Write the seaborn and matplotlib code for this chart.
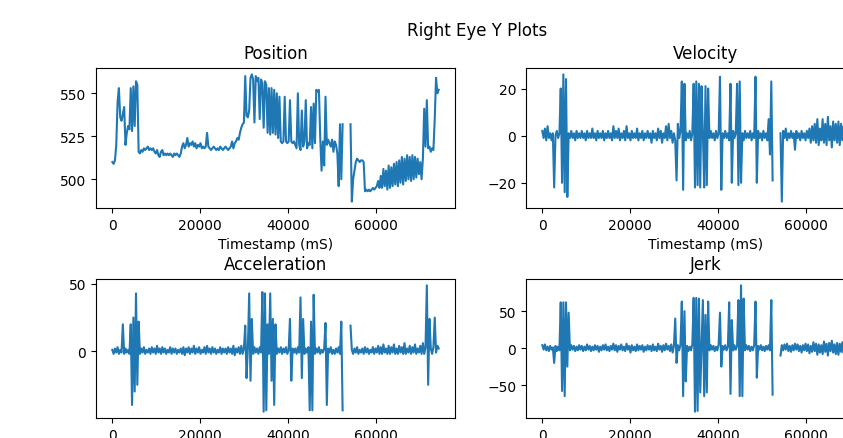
import numpy as np
import pandas as pd
import matplotlib
matplotlib.use("Agg")
import matplotlib.pyplot as plt
from matplotlib.ticker import MultipleLocator
import seaborn as sns

nan = np.nan

timestamps = [
    0, 300, 600, 900, 1200, 1500, 1800, 2100, 2400, 2700,
    3000, 3300, 3600, 3900, 4200, 4500, 4800, 5100, 5400, 5700,
    6000, 6300, 6600, 6900, 7200, 7500, 7800, 8100, 8400, 8700,
    9000, 9300, 9600, 9900, 10200, 10500, 10800, 11100, 11400, 11700,
    12000, 12300, 12600, 12900, 13200, 13500, 13800, 14100, 14400, 14700,
    15000, 15300, 15600, 15900, 16200, 16500, 16800, 17100, 17400, 17700,
    18000, 18300, 18600, 18900, 19200, 19500, 19800, 20100, 20400, 20700,
    21000, 21300, 21600, 21900, 22200, 22500, 22800, 23100, 23400, 23700,
    24000, 24300, 24600, 24900, 25200, 25500, 25800, 26100, 26400, 26700,
    27000, 27300, 27600, 27900, 28200, 28500, 28800, 29100, 29400, 29700,
    30000, 30300, 30600, 30900, 31200, 31500, 31800, 32100, 32400, 32700,
    33000, 33300, 33600, 33900, 34200, 34500, 34800, 35100, 35400, 35700,
    36000, 36300, 36600, 36900, 37200, 37500, 37800, 38100, 38400, 38700,
    39000, 39300, 39600, 39900, 40200, 40500, 40800, 41100, 41400, 41700,
    42000, 42300, 42600, 42900, 43200, 43500, 43800, 44100, 44400, 44700,
    45000, 45300, 45600, 45900, 46200, 46500, 46800, 47100, 47400, 47700,
    48000, 48300, 48600, 48900, 49200, 49500, 49800, 50100, 50400, 50700,
    51000, 51300, 51600, 51900, 52200, 52500, 52800, 53100, 53400, 53700,
    54000, 54300, 54600, 54900, 55200, 55500, 55800, 56100, 56400, 56700,
    57000, 57300, 57600, 57900, 58200, 58500, 58800, 59100, 59400, 59700,
    60000, 60300, 60600, 60900, 61200, 61500, 61800, 62100, 62400, 62700,
    63000, 63300, 63600, 63900, 64200, 64500, 64800, 65100, 65400, 65700,
    66000, 66300, 66600, 66900, 67200, 67500, 67800, 68100, 68400, 68700,
    69000, 69300, 69600, 69900, 70200, 70500, 70800, 71100, 71400, 71700,
    72000, 72300, 72600, 72900, 73200, 73500, 73800, 74100, 74400,
]

position = [
    510, 509, 511, 520, 545, 553, 536, 534, 538, 542,
    520, 527, 531, 529, 553, 528, 554, 531, 557, 555,
    516, 515, 517, 516, 518, 517, 518, 519, 517, 518,
    517, 518, 516, 515, 517, 514, 513, 516, 517, 514,
    515, 514, 515, 514, 515, 514, 513, 515, 514, 515,
    514, 513, 515, 519, 521, 518, 520, 524, 519, 521,
    520, 522, 519, 521, 518, 520, 519, 521, 518, 519,
    518, 519, 527, 519, 518, 517, 518, 519, 518, 517,
    518, 517, 519, 518, 517, 518, 519, 518, 517, 518,
    519, 522, 518, 521, 522, 524, 523, 527, 530, 532,
    533, 560, 537, 536, 540, 559, 561, 558, 533, 560,
    557, 559, 535, 558, 556, 530, 557, 555, 527, 553,
    526, 553, 527, 552, 526, 550, 524, 548, 522, 521,
    522, 548, 522, 521, 522, 546, 522, 521, 522, 520,
    518, 550, 520, 517, 540, 519, 522, 546, 518, 521,
    520, 542, 518, 544, 521, 552, 551, 552, 524, 505,
    522, 508, 548, 520, 523, 521, 519, 523, 516, 522,
    520, 515, 496, 532, 500, 532, nan, nan, nan, nan,
    nan, 532, 487, 500, 505, 510, 512, 511, 510, 511,
    511, 510, 493, 494, 493, 494, 493, 494, 495, 494,
    495, 496, 499, 495, 502, 495, 506, 496, 505, 494,
    508, 495, 507, 496, 509, 497, 510, 496, 511, 498,
    513, 497, 512, 499, 514, 500, 513, 499, 514, 500,
    513, 501, 512, 503, 510, 500, 512, 541, 519, 546,
    518, 519, 516, 518, 517, 535, 559, 550, 552,
]

velocity = [
    2, -1, 3, -2, 4, -1, 1, -2, 1, -22,
    0, 2, -1, 1, 20, -20, 26, -24, 24, -26,
    1, -1, 2, -1, 1, -2, 2, -1, 1, -1,
    2, -1, 1, -2, 2, -1, 1, -1, 3, -1,
    1, -2, 2, -1, 1, -1, 2, -2, 1, -1,
    2, -1, 1, -2, 4, -1, 2, -1, 3, -2,
    1, -1, 2, -2, 4, -1, 1, -2, 2, -1,
    1, -1, 3, -2, 1, -1, 2, -2, 1, -1,
    2, -1, 1, -3, 2, -1, 1, -2, 3, -1,
    2, -3, 1, -1, 4, -2, 5, -1, 2, -3,
    1, -2, -19, 5, -1, 2, 23, -23, 22, -2,
    1, -1, 2, -2, 1, 22, -22, 23, -21, 22,
    -22, 21, 1, -22, 21, -21, 20, -1, 2, -1,
    1, -2, 2, -1, 1, 25, -23, 1, -1, 2,
    -1, 1, -2, 22, -20, 2, -1, 1, 22, -21,
    23, -20, 1, -2, 2, -1, 1, -1, 2, -2,
    1, -1, 25, -20, 2, -1, 1, -2, 2, -1,
    1, -2, 7, -8, 23, -19, nan, nan, nan, nan,
    nan, 1, -28, 2, -1, 3, -2, 1, -1, 2,
    -1, 1, -6, 2, -1, 1, -2, 2, -1, 1,
    -2, 2, -1, 3, -3, 4, -2, 5, -3, 7,
    -4, 3, -2, 7, -3, 5, -4, 8, -2, 4,
    -5, 6, -2, 5, -3, 6, -4, 5, -2, 4,
    -3, 6, -4, 5, -2, 4, -3, 5, -4, 6,
    -3, 5, -2, 4, -3, 5, -4, 6, -3,
]

acceleration = [
    1, -2, 2, -1, 3, -2, 1, -1, 20, -2,
    2, -1, 1, -2, 20, -40, 25, -30, 43, -25,
    22, -2, 2, -1, 3, -2, 1, -1, 2, -2,
    3, -1, 2, -2, 4, -1, 2, -2, 3, -1,
    2, -2, 1, -1, 3, -2, 2, -1, 2, -2,
    1, -1, 2, -2, 3, -3, 2, -1, 3, -2,
    2, -1, 4, -2, 2, -1, 3, -2, 1, -1,
    3, -2, 4, -1, 2, -2, 3, -1, 2, -2,
    1, -1, 3, -2, 2, -1, 2, -2, 3, -1,
    2, -2, 4, -3, 2, -1, 3, -2, 4, -2,
    2, 19, -20, 2, 43, -22, 24, -2, 3, -1,
    2, -2, 3, -1, 44, -45, 43, -44, 20, -2,
    43, -22, 24, -40, 20, -2, 2, -1, 3, -2,
    2, -1, 3, -2, 1, 24, -22, 2, -1, 2,
    -2, 3, -1, 40, -20, 24, -2, 2, -1, 3,
    -44, 22, -44, 42, -2, 2, -1, 3, -2, 1,
    -1, 2, 21, -40, 2, -1, 3, -2, 1, -2,
    2, -1, 3, -2, 22, -44, nan, nan, nan, nan,
    nan, 19, 1, -2, 2, -1, 3, -2, 1, -1,
    2, -2, 3, -1, 2, -2, 1, -1, 3, -2,
    2, -1, 4, -2, 3, -2, 5, -1, 2, -2,
    4, -2, 3, -1, 5, -2, 2, -2, 4, -1,
    3, -2, 6, -2, 2, -1, 4, -2, 3, -1,
    5, -2, 2, -1, 4, -2, 6, -2, 3, 49,
    -25, 24, 2, -2, 3, 25, -1, 4, 2,
]

jerk = [
    4, -2, 5, -3, 2, -4, 3, -2, 1, -20,
    3, -4, 2, -3, 62, -58, 62, -65, 62, -25,
    48, -3, 4, -2, 3, -4, 2, -3, 4, -2,
    3, -4, 2, -3, 5, -2, 3, -4, 2, -3,
    4, -2, 3, -5, 2, -3, 4, -2, 5, -3,
    2, -4, 3, -2, 6, -3, 4, -5, 3, -2,
    5, -3, 2, -4, 6, -2, 3, -6, 4, -3,
    2, -4, 5, -3, 3, -2, 4, -5, 2, -3,
    4, -2, 3, -4, 5, -3, 2, -4, 6, -2,
    3, -5, 4, -3, 6, -2, 3, -4, 5, -6,
    3, 40, -20, 4, -3, 5, 63, -65, 50, -45,
    3, -4, 2, -3, 5, 68, -86, 68, -85, 67,
    -60, 4, 65, -65, 45, -60, 63, -3, 4, -2,
    3, -4, 2, -3, 5, 48, -25, 3, -2, 4,
    -3, 2, 62, -62, 38, -3, 4, -2, 3, 65,
    -65, 85, -65, 67, -3, 4, -2, 3, -4, 2,
    -3, 4, 63, -40, 3, -2, 4, -3, 2, -4,
    3, -2, 4, -3, 65, -63, nan, nan, nan, nan,
    nan, -10, 4, -3, 5, -2, 6, -4, 3, -5,
    4, -3, 6, -2, 5, -4, 3, -6, 4, -3,
    6, -4, 5, -7, 3, -5, 8, -4, 6, -9,
    5, -6, 4, -8, 9, -5, 6, -10, 7, -4,
    10, -6, 5, -8, 7, -9, 6, -5, 8, -7,
    6, -8, 9, -5, 7, -6, 5, -8, 6, -7,
    8, -5, 6, -7, 5, -8, 6, -4, 5,
]

titles = ["Position", "Velocity", "Acceleration", "Jerk"]
y_tick_steps = [25, 20, 50, 50]
suptitle = "Right Eye Y Plots"
xlabel = "Timestamp (mS)"

df = pd.DataFrame({
    "t": timestamps,
    "Position": position,
    "Velocity": velocity,
    "Acceleration": acceleration,
    "Jerk": jerk,
})

W, H = 843, 439
fig = plt.figure(figsize=(W / 100, H / 100), dpi=100)

# axes boxes in pixels: (left, top, right, bottom)
boxes = [
    (96, 69, 455, 209),
    (526, 69, 885, 209),
    (96, 280, 455, 419),
    (526, 280, 885, 419),
]

color = "#1f77b4"
for name, step, (l, t, r, b) in zip(titles, y_tick_steps, boxes):
    ax = fig.add_axes([l / W, 1 - b / H, (r - l) / W, (b - t) / H])
    col = df[name]
    valid = col.notna()
    seg_id = (valid != valid.shift()).cumsum()
    for _, seg in df[valid].groupby(seg_id[valid]):
        sns.lineplot(data=seg, x="t", y=name, ax=ax, color=color,
                     linewidth=1.5, estimator=None, sort=False)
    ax.set_title(name, fontsize=12, pad=7.5)
    ax.set_xlabel(xlabel, fontsize=10)
    ax.set_ylabel("")
    ax.margins(x=0.05, y=0.05)
    ax.yaxis.set_major_locator(MultipleLocator(step))
    ax.xaxis.set_major_locator(MultipleLocator(20000))

fig.suptitle(suptitle, x=477 / W, y=1 - 31 / H, fontsize=12, va="center")

fig.savefig("out.png", dpi=100)
